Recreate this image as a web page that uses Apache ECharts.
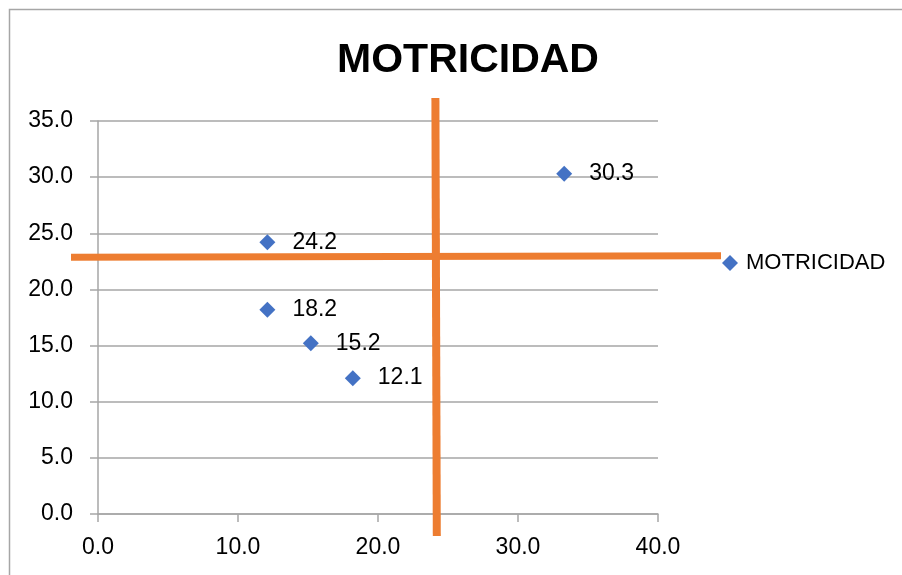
<!DOCTYPE html>
<html>
<head>
<meta charset="utf-8">
<script src="https://cdn.jsdelivr.net/npm/echarts@6/dist/echarts.min.js"></script>
<style>
html,body{margin:0;padding:0;background:#fff;}
#chart{width:902px;height:575px;}
</style>
</head>
<body>
<div id="chart"></div>
<script>
// Data
const seriesName = 'MOTRICIDAD';
const xValues = [12.1, 33.3, 12.1, 15.2, 18.2];
const yValues = [24.2, 30.3, 18.2, 15.2, 12.1];
// Orange quadrant divider lines (hand-drawn in the original), in axis units
const vLineX = [24.1, 24.2];
const vLineY = [37.05, -1.96];
const hLineX = [-1.93, 44.5];
const hLineY = [22.86, 23.0];
const yTicks = [0, 5, 10, 15, 20, 25, 30, 35];
const xTicks = [0, 10, 20, 30, 40];

const points = xValues.map((x, i) => [x, yValues[i]]);
const vLine = vLineX.map((x, i) => [x, vLineY[i]]);
const hLine = hLineX.map((x, i) => [x, hLineY[i]]);

const chart = echarts.init(document.getElementById('chart'));
const font = 'Liberation Sans, Arial, sans-serif';
const border = {
  type: 'polyline',
  shape: {points: [[9.5, 575], [9.5, 9.5], [902, 9.5]]},
  style: {stroke: '#A6A6A6', lineWidth: 1.5, fill: null},
  silent: true
};
chart.setOption({
  animation: false,
  backgroundColor: '#fff',
  textStyle: {fontFamily: font},
  graphic: [border],
  title: {
    text: 'MOTRICIDAD',
    left: 463, top: 35, textAlign: 'center',
    textStyle: {fontFamily: font, fontSize: 41, fontWeight: 'bold', color: '#000'}
  },
  legend: {
    data: [{name: seriesName, icon: 'diamond'}],
    left: 717, top: 247,
    itemWidth: 16, itemHeight: 16, itemGap: 4,
    textStyle: {fontFamily: font, fontSize: 22, color: '#000', padding: [0,0,0,3]}
  },
  grid: {left: 98, right: 244, top: 121, bottom: 61, containLabel: false},
  xAxis: {
    type: 'value', min: xTicks[0], max: xTicks[xTicks.length-1], interval: 10,
    axisLine: {show: true, onZero: false, lineStyle: {color: '#A6A6A6', width: 1.5}},
    axisTick: {show: true, length: 8, lineStyle: {color: '#A6A6A6', width: 1.5}},
    axisLabel: {fontSize: 23, color: '#000', margin: 22, fontFamily: font,
      formatter: v => v.toFixed(1)},
    splitLine: {show: false}
  },
  yAxis: {
    type: 'value', min: yTicks[0], max: yTicks[yTicks.length-1], interval: 5,
    axisLine: {show: true, onZero: false, lineStyle: {color: '#A6A6A6', width: 1.5}},
    axisTick: {show: true, length: 8, lineStyle: {color: '#A6A6A6', width: 1.5}},
    axisLabel: {fontSize: 23, color: '#000', margin: 25, fontFamily: font,
      formatter: v => v.toFixed(1)},
    splitLine: {show: true, lineStyle: {color: '#A6A6A6', width: 1.5}}
  },
  series: [
    {
      name: seriesName, type: 'scatter', data: points,
      symbol: 'diamond', symbolSize: 16, z: 5,
      itemStyle: {color: '#4472C4', opacity: 1},
      label: {show: true, position: 'right', distance: 17, fontSize: 23, color: '#000',
        fontFamily: font, formatter: p => p.value[1].toFixed(1)}
    }
  ]
});

// Orange divider lines positioned through the chart's own coordinate system
const toPx = p => chart.convertToPixel({gridIndex: 0}, p);
chart.setOption({
  graphic: [
    border,
    {
      type: 'polyline', z: 3, silent: true,
      shape: {points: hLine.map(toPx)},
      style: {stroke: '#ED7D31', lineWidth: 7, fill: null}
    },
    {
      type: 'polyline', z: 3, silent: true,
      shape: {points: vLine.map(toPx)},
      style: {stroke: '#ED7D31', lineWidth: 8, fill: null}
    }
  ]
});
</script>
</body>
</html>
